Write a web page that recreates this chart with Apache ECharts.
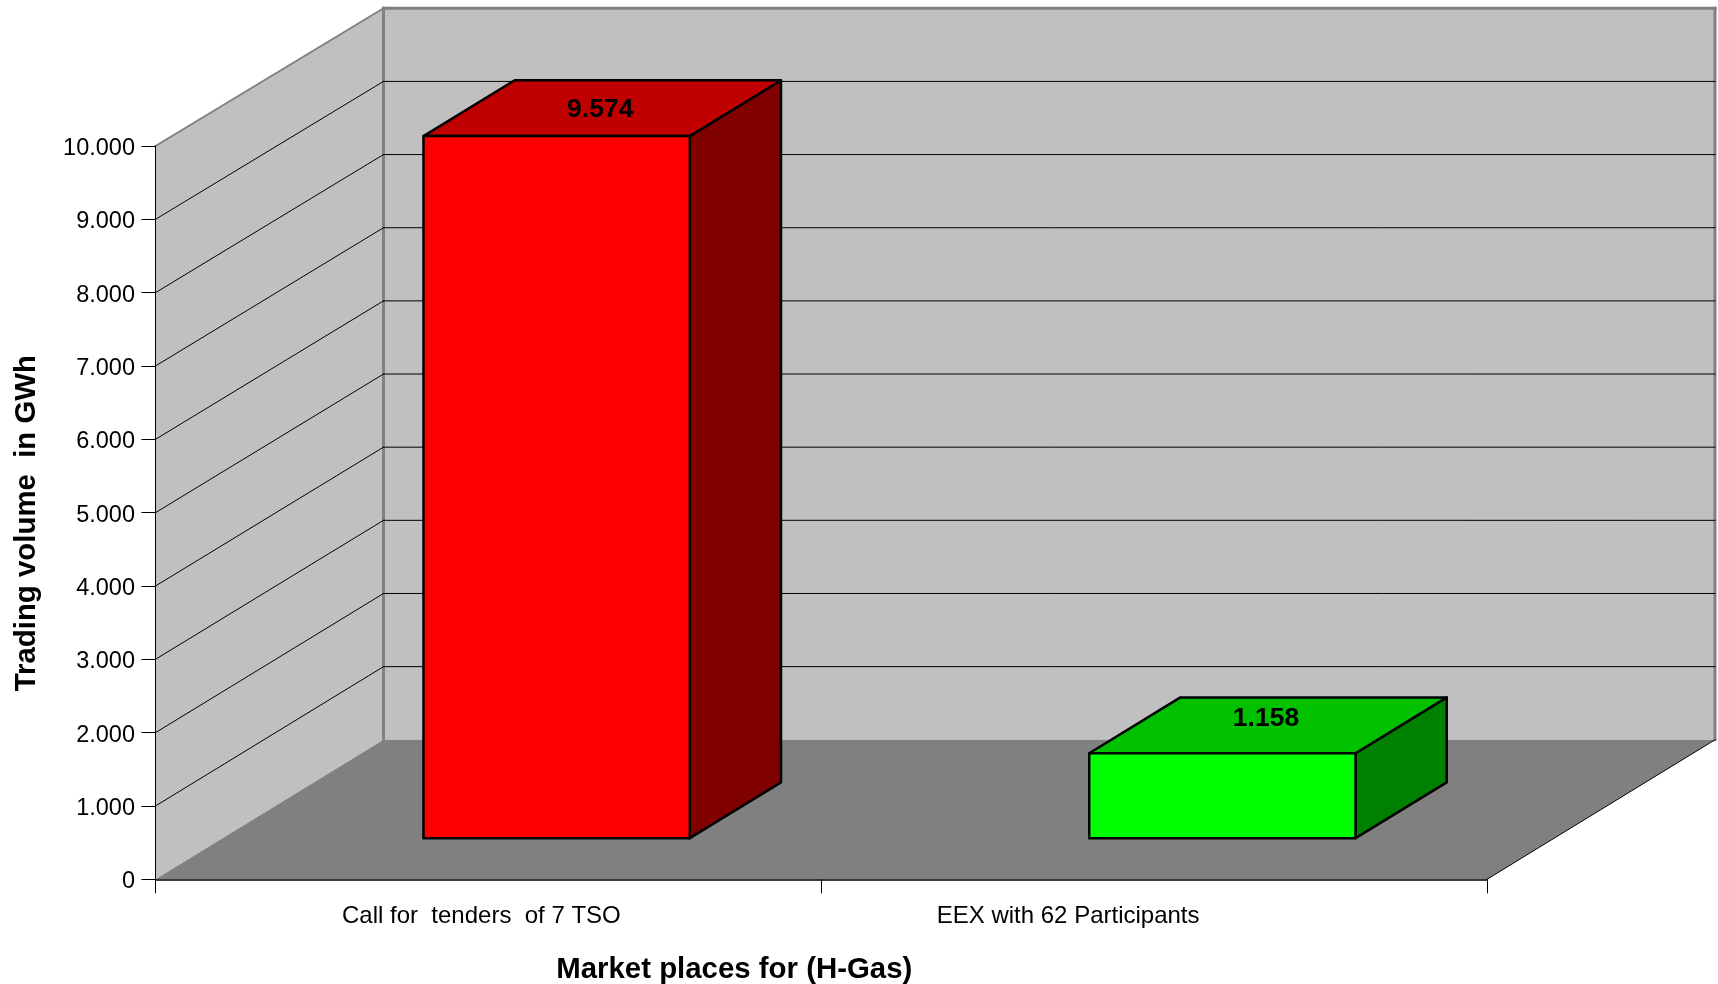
<!DOCTYPE html>
<html>
<head>
<meta charset="utf-8">
<title>Trading volume</title>
<style>
  html, body { margin: 0; padding: 0; background: #fff; }
  #chart { width: 1718px; height: 984px; }
</style>
<script src="https://cdn.jsdelivr.net/npm/echarts@6/dist/echarts.min.js"></script>
</head>
<body>
<div id="chart"></div>
<script>
const categories = ['Call for  tenders  of 7 TSO', 'EEX with 62 Participants']
const tradingVolume = [9574, 1158]
const gridValues = [1000, 2000, 3000, 4000, 5000, 6000, 7000, 8000, 9000]

const FRONT_COLORS = ['#ff0000', '#00ff00']
const TOP_COLORS = ['#c00000', '#00c000']
const SIDE_COLORS = ['#800000', '#008000']

// how far the back of the box sits from the front plane, in pixels
const DEPTH_X = 228
const DEPTH_Y = -139.5
const BACK_SQUEEZE = 0.0024
const BAR_WIDTH = 0.4
const BAR_Z = [0.295, 0.695]
const BAR_NUDGE_X = 1
const LABEL_LIFT = [-1.5, 7]
const LABEL_SHIFT = [14, 172]

const FONT = '"Liberation Sans", Arial, sans-serif'

function project(x, y, z) {
  return [x + DEPTH_X * z, y + DEPTH_Y * z]
}

// the back wall comes out a touch shorter than the front plane
function back(x, y, bottom) {
  return project(x, y + (bottom - y) * BACK_SQUEEZE, 1)
}

function poly(points, fill, stroke, lineWidth) {
  return {
    type: 'polygon',
    shape: { points },
    style: { fill, stroke: stroke || 'none', lineWidth: lineWidth || 0, lineJoin: 'round' },
  }
}

function line(a, b, stroke, lineWidth) {
  return {
    type: 'line',
    shape: { x1: a[0], y1: a[1], x2: b[0], y2: b[1] },
    style: { stroke, lineWidth, lineCap: 'square' },
  }
}

function renderWalls(params) {
  const g = params.coordSys
  const left = g.x
  const right = g.x + g.width
  const top = g.y
  const bottom = g.y + g.height
  return {
    type: 'group',
    children: [
      poly([back(left, top, bottom), back(right, top, bottom), back(right, bottom, bottom), back(left, bottom, bottom)], '#c0c0c0'),
      poly([[left, top], back(left, top, bottom), back(left, bottom, bottom), [left, bottom]], '#c0c0c0'),
      poly([[left, bottom], back(left, bottom, bottom), back(right, bottom, bottom), [right, bottom]], '#808080'),
      line([left, top], back(left, top, bottom), '#808080', 2),
      line(back(left, top, bottom), back(right, top, bottom), '#808080', 3),
      line(back(left, top, bottom), back(left, bottom, bottom), '#808080', 3),
      line(back(right, top, bottom), back(right, bottom, bottom), '#808080', 3),
      line([right, bottom], back(right, bottom, bottom), '#000', 1),
    ],
  }
}

function renderGridLine(params, api) {
  const g = params.coordSys
  const y = api.coord([0, api.value(0)])[1]
  const left = g.x
  const right = g.x + g.width
  const bottom = g.y + g.height
  return {
    type: 'group',
    children: [
      line([left, y], back(left, y, bottom), '#000', 1),
      line(back(left, y, bottom), back(right, y, bottom), '#000', 1),
    ],
  }
}

function renderBar(params, api) {
  const i = params.dataIndex
  const top = api.coord([api.value(0), api.value(1)])
  const base = api.coord([api.value(0), 0])
  const w = api.size([1, 0])[0] * BAR_WIDTH
  const x0 = top[0] - w / 2 + BAR_NUDGE_X
  const x1 = top[0] + w / 2 + BAR_NUDGE_X
  const [z0, z1] = BAR_Z
  const stroke = '#000'
  const topFace = [project(x0, top[1], z0), project(x1, top[1], z0), project(x1, top[1], z1), project(x0, top[1], z1)]
  const mid = project((x0 + x1) / 2, top[1], (z0 + z1) / 2)
  return {
    type: 'group',
    children: [
      poly([project(x1, top[1], z0), project(x1, top[1], z1), project(x1, base[1], z1), project(x1, base[1], z0)], SIDE_COLORS[i], stroke, 2.5),
      poly(topFace, TOP_COLORS[i], stroke, 2.5),
      poly([project(x0, top[1], z0), project(x1, top[1], z0), project(x1, base[1], z0), project(x0, base[1], z0)], FRONT_COLORS[i], stroke, 2.5),
      {
        type: 'text',
        style: {
          x: mid[0] - 2,
          y: mid[1] - LABEL_LIFT[i],
          text: String(api.value(1)).replace(/(\d)(\d{3})$/, '$1.$2'),
          fill: '#000',
          font: 'bold 26.5px ' + FONT,
          textAlign: 'center',
          textVerticalAlign: 'middle',
        },
      },
    ],
  }
}

const chart = echarts.init(document.getElementById('chart'))
chart.setOption({
  animation: false,
  backgroundColor: '#fff',
  grid: { left: 155.5, top: 146, width: 1331.5, height: 733.3, containLabel: false, outerBoundsMode: 'none' },
  xAxis: {
    type: 'category',
    z: 3,
    data: categories.map((value, i) => ({ value, textStyle: { padding: [0, LABEL_SHIFT[i], 0, 0] } })),
    axisLine: { lineStyle: { color: '#000', width: 1.5 } },
    axisTick: { show: true, length: 14, lineStyle: { color: '#000', width: 1 } },
    axisLabel: { interval: 0, margin: 25, color: '#000', fontSize: 24, fontFamily: FONT },
    name: 'Market places for (H-Gas)',
    nameLocation: 'middle',
    nameGap: 76,
    nameTextStyle: { color: '#000', fontSize: 29.4, fontWeight: 'bold', fontFamily: FONT, padding: [0, 174, 0, 0] },
  },
  yAxis: {
    type: 'value',
    z: 3,
    min: 0,
    max: 10000,
    interval: 1000,
    splitLine: { show: false },
    axisLine: { show: true, lineStyle: { color: '#000', width: 1 } },
    axisTick: { show: true, length: 14, lineStyle: { color: '#000', width: 1 } },
    axisLabel: {
      margin: 20.5,
      color: '#000',
      fontSize: 23.5,
      fontFamily: FONT,
      formatter: (v) => '{v|' + String(v).replace(/(\d)(\d{3})$/, '$1.$2') + '}',
      rich: { v: { color: '#000', fontSize: 23.5, fontFamily: FONT, padding: [5, 0, 0, 0] } },
    },
    name: 'Trading volume  in GWh',
    nameLocation: 'middle',
    nameGap: 114,
    nameTextStyle: { color: '#000', fontSize: 29.4, fontWeight: 'bold', fontFamily: FONT, padding: [0, 21, 0, 0] },
  },
  series: [
    { type: 'custom', z: 1, silent: true, data: [0], renderItem: renderWalls },
    { type: 'custom', z: 2, silent: true, data: gridValues.map((v) => [v]), encode: { y: 0 }, renderItem: renderGridLine },
    {
      type: 'custom',
      z: 4,
      silent: true,
      clip: false,
      data: tradingVolume.map((v, i) => [i, v]),
      encode: { x: 0, y: 1 },
      renderItem: renderBar,
    },
  ],
})
window.addEventListener('resize', () => chart.resize())
</script>
</body>
</html>
